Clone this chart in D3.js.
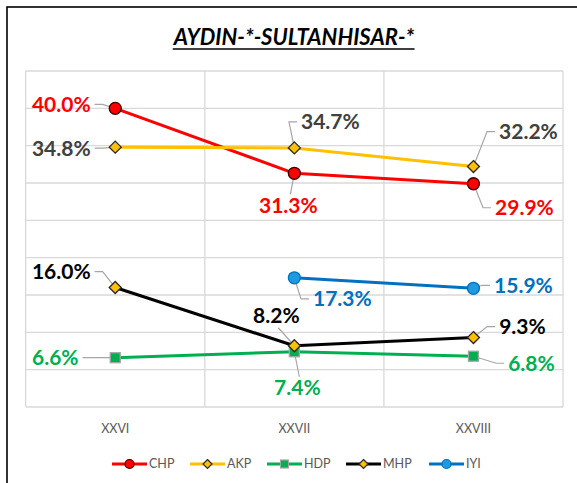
<!DOCTYPE html>
<html>
<head>
<meta charset="utf-8">
<script src="https://cdn.jsdelivr.net/npm/d3@7"></script>
<style>
  body { margin: 0; background: #fff; }
  svg { display: block; font-family: Lato, 'Open Sans', sans-serif; }
</style>
</head>
<body>
<svg id="chart" width="577" height="483"></svg>
<script>
const terms = ['XXVI', 'XXVII', 'XXVIII'];
const parties = ['CHP', 'AKP', 'HDP', 'MHP', 'IYI'];
const chp = [40.0, 31.3, 29.9];
const akp = [34.8, 34.7, 32.2];
const hdp = [6.6, 7.4, 6.8];
const mhp = [16.0, 8.2, 9.3];
const iyi = [null, 17.3, 15.9];
const title = 'AYDIN-*-SULTANHISAR-*';

// look of each series
const styles = {
  CHP: {line: '#ff0000', fill: '#ff0000', stroke: '#3a0000', shape: 'circle', size: 6, label: '#ff0000'},
  AKP: {line: '#ffc000', fill: '#ffc000', stroke: '#262626', shape: 'diamond', size: 6, label: '#404040'},
  HDP: {line: '#00b050', fill: '#00b050', stroke: '#a5a5a5', shape: 'square', size: 5, label: '#00b050'},
  MHP: {line: '#000000', fill: '#ffc000', stroke: '#262626', shape: 'diamond', size: 6, label: '#000000'},
  IYI: {line: '#0070c0', fill: '#1e9be0', stroke: '#0070c0', shape: 'circle', size: 6, label: '#0070c0'},
};

// where the data labels sit relative to their point: [dx, dy, leader side]
const labelPlace = {
  CHP: [[-54, -4, 'right'], [-6, 32, 'top'], [51, 24, 'left']],
  AKP: [[-54, 1, 'right'], [36, -26, 'left'], [55, -35, 'left']],
  HDP: [[-60, 0, 'right'], [3, 36, 'top'], [58, 7, 'left']],
  MHP: [[-54, -16, 'right'], [-18, -30, 'bottom'], [49, -11, 'left']],
  IYI: [null, [48, 21, 'left'], [50, -3, 'left']],
};

const series = parties.map((name, i) => ({
  name,
  values: [chp, akp, hdp, mhp, iyi][i],
}));

const svg = d3.select('#chart');
const plot = {left: 25.7, right: 563, top: 71, bottom: 407};

const x = d3.scalePoint().domain(terms).range([plot.left, plot.right]).padding(0.5);
const band = d3.scaleBand().domain(terms).range([plot.left, plot.right]);
const y = d3.scaleLinear().domain([0, 45]).range([plot.bottom, plot.top]);

// outer frame
svg.append('rect')
    .attr('x', 7).attr('y', 7)
    .attr('width', 600).attr('height', 500)
    .attr('fill', 'none')
    .attr('stroke', '#000')
    .attr('stroke-width', 1.6);

const titleText = svg.append('text')
    .attr('x', 294).attr('y', 45)
    .attr('text-anchor', 'middle')
    .attr('font-size', 22)
    .attr('font-weight', 'bold')
    .attr('font-style', 'italic')
    .attr('fill', '#000')
    .text(title);
const tb = titleText.node().getBBox();
svg.append('line')
    .attr('x1', tb.x).attr('x2', tb.x + tb.width)
    .attr('y1', 49).attr('y2', 49)
    .attr('stroke', '#000').attr('stroke-width', 1.4);

// grid
const grid = svg.append('g').attr('name', 'grid')
    .attr('stroke', '#d9d9d9').attr('stroke-width', 1.3);
grid.selectAll('line.h')
    .data(y.ticks(9))
    .enter().append('line')
    .attr('x1', plot.left).attr('x2', plot.right)
    .attr('y1', (d) => y(d)).attr('y2', (d) => y(d));
grid.selectAll('line.v')
    .data(terms.map((t) => band(t)).concat([plot.right]))
    .enter().append('line')
    .attr('x1', (d) => d).attr('x2', (d) => d)
    .attr('y1', plot.top).attr('y2', plot.bottom);

// category labels
svg.append('g').selectAll('text')
    .data(terms)
    .enter().append('text')
    .attr('x', (d) => x(d))
    .attr('y', 433)
    .attr('text-anchor', 'middle')
    .attr('font-size', 12.5)
    .attr('fill', '#595959')
    .text((d) => d);

function drawMarker(g, st, cx, cy) {
  const s = st.size;
  if (st.shape === 'circle') {
    g.append('circle').attr('cx', cx).attr('cy', cy).attr('r', s);
  } else if (st.shape === 'diamond') {
    g.append('path').attr('d', `M${cx},${cy - s}L${cx + s},${cy}L${cx},${cy + s}L${cx - s},${cy}Z`);
  } else {
    g.append('rect').attr('x', cx - s).attr('y', cy - s).attr('width', 2 * s).attr('height', 2 * s);
  }
  return g;
}

const lineGen = d3.line()
    .defined((d) => d.v !== null)
    .x((d) => x(d.t))
    .y((d) => y(d.v));

const leaders = svg.append('g').attr('name', 'leaders');
const lines = svg.append('g').attr('name', 'lines');
const labels = svg.append('g').attr('name', 'labels');

series.forEach((s) => {
  const st = styles[s.name];
  const pts = s.values.map((v, i) => ({t: terms[i], v}));
  lines.append('path')
      .datum(pts)
      .attr('d', lineGen)
      .attr('fill', 'none')
      .attr('stroke', st.line)
      .attr('stroke-width', 3)
      .attr('stroke-linejoin', 'round');
});

series.forEach((s) => {
  const st = styles[s.name];
  s.values.forEach((v, i) => {
    if (v === null) return;
    const px = x(terms[i]);
    const py = y(v);
    const mg = lines.append('g')
        .attr('fill', st.fill)
        .attr('stroke', st.stroke)
        .attr('stroke-width', 1.3);
    drawMarker(mg, st, px, py);

    const [dx, dy, side] = labelPlace[s.name][i];
    const lx = px + dx;
    const ly = py + dy;
    const txt = labels.append('text')
        .attr('x', lx).attr('y', ly)
        .attr('dy', '0.36em')
        .attr('text-anchor', 'middle')
        .attr('font-size', 21)
        .attr('font-weight', 'bold')
        .attr('fill', st.label)
        .text(v.toFixed(1) + '%');
    const w = txt.node().getComputedTextLength();

    let path;
    if (side === 'right' || side === 'left') {
      const sx = side === 'right' ? lx + w / 2 + 4 : lx - w / 2 - 4;
      const stub = side === 'right' ? sx + 8 : sx - 8;
      path = `M${sx},${ly}L${stub},${ly}L${px},${py}`;
    } else {
      const sy = side === 'top' ? ly - 11 : ly + 12;
      path = `M${lx + 2},${sy}L${px},${py}`;
    }
    leaders.append('path')
        .attr('d', path)
        .attr('fill', 'none')
        .attr('stroke', '#a6a6a6')
        .attr('stroke-width', 1.2);
  });
});

// legend
const legendX = [112, 190, 267, 346, 429];
const legend = svg.append('g').attr('name', 'legend');
parties.forEach((name, i) => {
  const st = styles[name];
  const g = legend.append('g').attr('transform', `translate(${legendX[i]},464)`);
  g.append('line')
      .attr('x1', 0).attr('x2', 35)
      .attr('stroke', st.line).attr('stroke-width', 3);
  const mg = g.append('g')
      .attr('fill', st.fill)
      .attr('stroke', st.stroke)
      .attr('stroke-width', 1.2);
  drawMarker(mg, Object.assign({}, st, {size: st.shape === 'square' ? 4 : 4.5}), 17.5, 0);
  g.append('text')
      .attr('x', 37).attr('y', 0)
      .attr('dy', '0.35em')
      .attr('font-size', 12.5)
      .attr('fill', '#595959')
      .text(name);
});
</script>
</body>
</html>
